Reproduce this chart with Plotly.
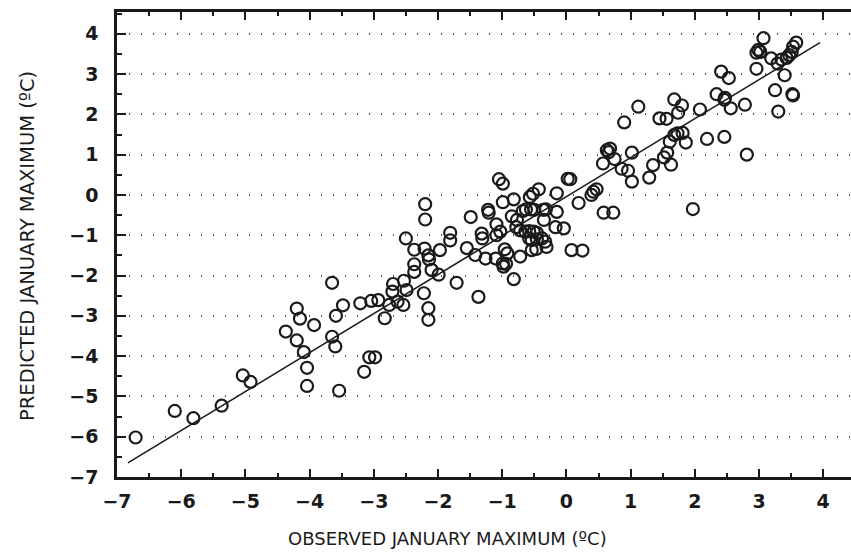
import plotly.graph_objects as go

observed = [
    -6.71, -6.10, -5.81, -5.37, -5.04, -4.92, -4.37, -4.20, -4.15, -4.20,
    -4.09, -4.04, -4.04, -3.93, -3.65, -3.65, -3.60, -3.54, -3.48, -3.59,
    -3.21, -3.04, -2.93, -2.83, -3.07, -2.98, -3.15, -2.76, -2.71, -2.70,
    -2.63, -2.54, -2.53, -2.49, -2.50, -2.37, -2.37, -2.37, -2.21, -2.15,
    -2.14, -2.10, -2.22, -2.15, -2.15, -2.20, -2.20, -1.97, -1.99,
    -1.81, -1.81, -1.71, -1.55, -1.49, -1.42, -1.37, -1.32, -1.31, -1.26,
    -1.22, -1.21, -1.10, -1.09, -1.03, -1.05, -0.99, -0.99, -0.96, -0.99,
    -0.94, -0.98, -0.92, -1.09,
    -0.82, -0.82, -0.85, -0.77, -0.72, -0.68, -0.63, -0.57, -0.52, -0.43,
    -0.55, -0.50, -0.36, -0.32, -0.35, -0.15, -0.15, -0.72, -0.64, -0.58,
    -0.51, -0.46, -0.78, -0.58, -0.54, -0.46, -0.38, -0.33, -0.31, -0.54,
    -0.47, -0.17, -0.04,
    0.02, 0.06, 0.19, 0.08, 0.25, 0.39, 0.42, 0.47, 0.58, 0.73,
    0.57, 0.63, 0.68, 0.66, 0.75, 0.86, 0.96, 0.90,
    1.02, 1.02, 1.12, 1.29, 1.35, 1.45, 1.56, 1.52, 1.57, 1.63,
    1.61, 1.68, 1.73, 1.81, 1.86, 1.68, 1.80, 1.74, 1.97,
    2.08, 2.19, 2.34, 2.46, 2.47, 2.46, 2.41, 2.53, 2.56, 2.78,
    2.81, 2.96, 2.99, 3.02, 2.96, 3.07,
    3.19, 3.29, 3.35, 3.43, 3.40, 3.25, 3.30, 3.52, 3.53, 3.58,
    3.53, 3.51, 3.47,
]
predicted = [
    -6.02, -5.36, -5.54, -5.23, -4.48, -4.64, -3.39, -2.82, -3.07, -3.61,
    -3.90, -4.29, -4.74, -3.23, -2.18, -3.52, -3.76, -4.86, -2.74, -3.00,
    -2.69, -2.63, -2.61, -3.06, -4.03, -4.03, -4.39, -2.73, -2.40, -2.21,
    -2.65, -2.73, -2.13, -2.36, -1.08, -1.36, -1.72, -1.91, -1.33, -1.50,
    -1.60, -1.86, -2.44, -2.81, -3.10, -0.23, -0.61, -1.37, -1.98,
    -0.94, -1.13, -2.18, -1.32, -0.55, -1.49, -2.53, -0.96, -1.08, -1.58,
    -0.37, -0.44, -1.58, -0.73, -0.91, 0.39, 0.28, -0.18, -1.35, -1.70,
    -1.71, -1.78, -1.45, -1.00,
    -0.11, -2.09, -0.53, -0.62, -1.53, -0.40, -0.36, -0.05, 0.03, 0.14,
    -0.36, -0.37, -0.37, -0.36, -0.62, -0.42, 0.04, -0.88, -0.91, -0.90,
    -0.91, -0.94, -0.80, -1.08, -1.12, -1.10, -1.08, -1.16, -1.29, -1.37,
    -1.34, -0.80, -0.83,
    0.40, 0.39, -0.20, -1.37, -1.38, 0.00, 0.08, 0.14, -0.44, -0.44,
    0.78, 1.11, 1.15, 1.06, 0.89, 0.65, 0.60, 1.80,
    1.05, 0.33, 2.19, 0.43, 0.74, 1.90, 1.89, 0.93, 1.05, 0.75,
    1.32, 1.49, 1.53, 1.54, 1.30, 2.37, 2.22, 2.04, -0.35,
    2.12, 1.39, 2.50, 2.36, 2.41, 1.44, 3.06, 2.90, 2.15, 2.24,
    1.00, 3.13, 3.60, 3.55, 3.53, 3.89,
    3.39, 3.26, 3.36, 3.40, 2.97, 2.60, 2.07, 2.50, 2.47, 3.78,
    3.68, 3.55, 3.47,
]

fit_x = [-6.83, 3.95]
fit_slope = 0.9675
fit_intercept = -0.042
fit_y = [fit_intercept + fit_slope * v for v in fit_x]

x_ticks = [-7, -6, -5, -4, -3, -2, -1, 0, 1, 2, 3, 4]
y_ticks = [-7, -6, -5, -4, -3, -2, -1, 0, 1, 2, 3, 4]
x_title = "OBSERVED JANUARY MAXIMUM (\u00baC)"
y_title = "PREDICTED JANUARY MAXIMUM (\u00baC)"


def tick_label(v):
    return ("\u2212" + str(-v)) if v < 0 else str(v)


INK = "#1a1a1a"
FONT = "DejaVu Sans"

fig = go.Figure()
fig.add_trace(go.Scatter(
    x=fit_x, y=fit_y, mode="lines",
    line=dict(color=INK, width=1.6), hoverinfo="skip", showlegend=False,
))
fig.add_trace(go.Scatter(
    x=observed, y=predicted, mode="markers",
    marker=dict(symbol="circle-open", size=12, color=INK, line=dict(width=2.2, color=INK)),
    showlegend=False,
))

fig.update_layout(
    width=851, height=553,
    margin=dict(l=117, r=0, t=12, b=76),
    paper_bgcolor="white", plot_bgcolor="white",
    font=dict(family=FONT, color=INK),
    annotations=[
        dict(text=x_title, xref="paper", yref="paper", x=(447 - 117) / 734, y=-(538 - 477) / 465,
             xanchor="center", yanchor="middle", showarrow=False,
             font=dict(size=18, family=FONT, color=INK)),
        dict(text=y_title, xref="paper", yref="paper", x=-(117 - 28) / 734, y=(477 - 246) / 465,
             xanchor="center", yanchor="middle", showarrow=False, textangle=-90,
             font=dict(size=19.5, family=FONT, color=INK)),
    ],
)
fig.update_xaxes(
    range=[-7, 4.433], tickvals=x_ticks, ticktext=[tick_label(v) for v in x_ticks],
    showgrid=False, zeroline=False, automargin=False,
    showline=True, linewidth=2.5, linecolor=INK, mirror="ticks",
    ticks="inside", ticklen=8, tickwidth=2, tickcolor=INK,
    minor=dict(dtick=0.5, ticks="inside", ticklen=4, tickwidth=1.5, tickcolor=INK),
    tickfont=dict(size=19, family=FONT, color=INK, weight="bold"),
    ticklabelstandoff=5,
)
fig.update_yaxes(
    range=[-7, 4.54], tickvals=y_ticks, ticktext=[tick_label(v) for v in y_ticks],
    showgrid=True, gridcolor="#555555", gridwidth=1.6, griddash="1px,11px",
    zeroline=False, automargin=False,
    showline=True, linewidth=2.5, linecolor=INK, mirror=False,
    ticks="inside", ticklen=9, tickwidth=2, tickcolor=INK,
    minor=dict(dtick=0.5, ticks="inside", ticklen=5, tickwidth=1.5, tickcolor=INK, showgrid=False),
    tickfont=dict(size=19, family=FONT, color=INK, weight="bold"),
    ticklabelstandoff=12,
)

fig.write_html("out.html", config={"displayModeBar": False},
               post_script="document.body.style.margin='0px';")
